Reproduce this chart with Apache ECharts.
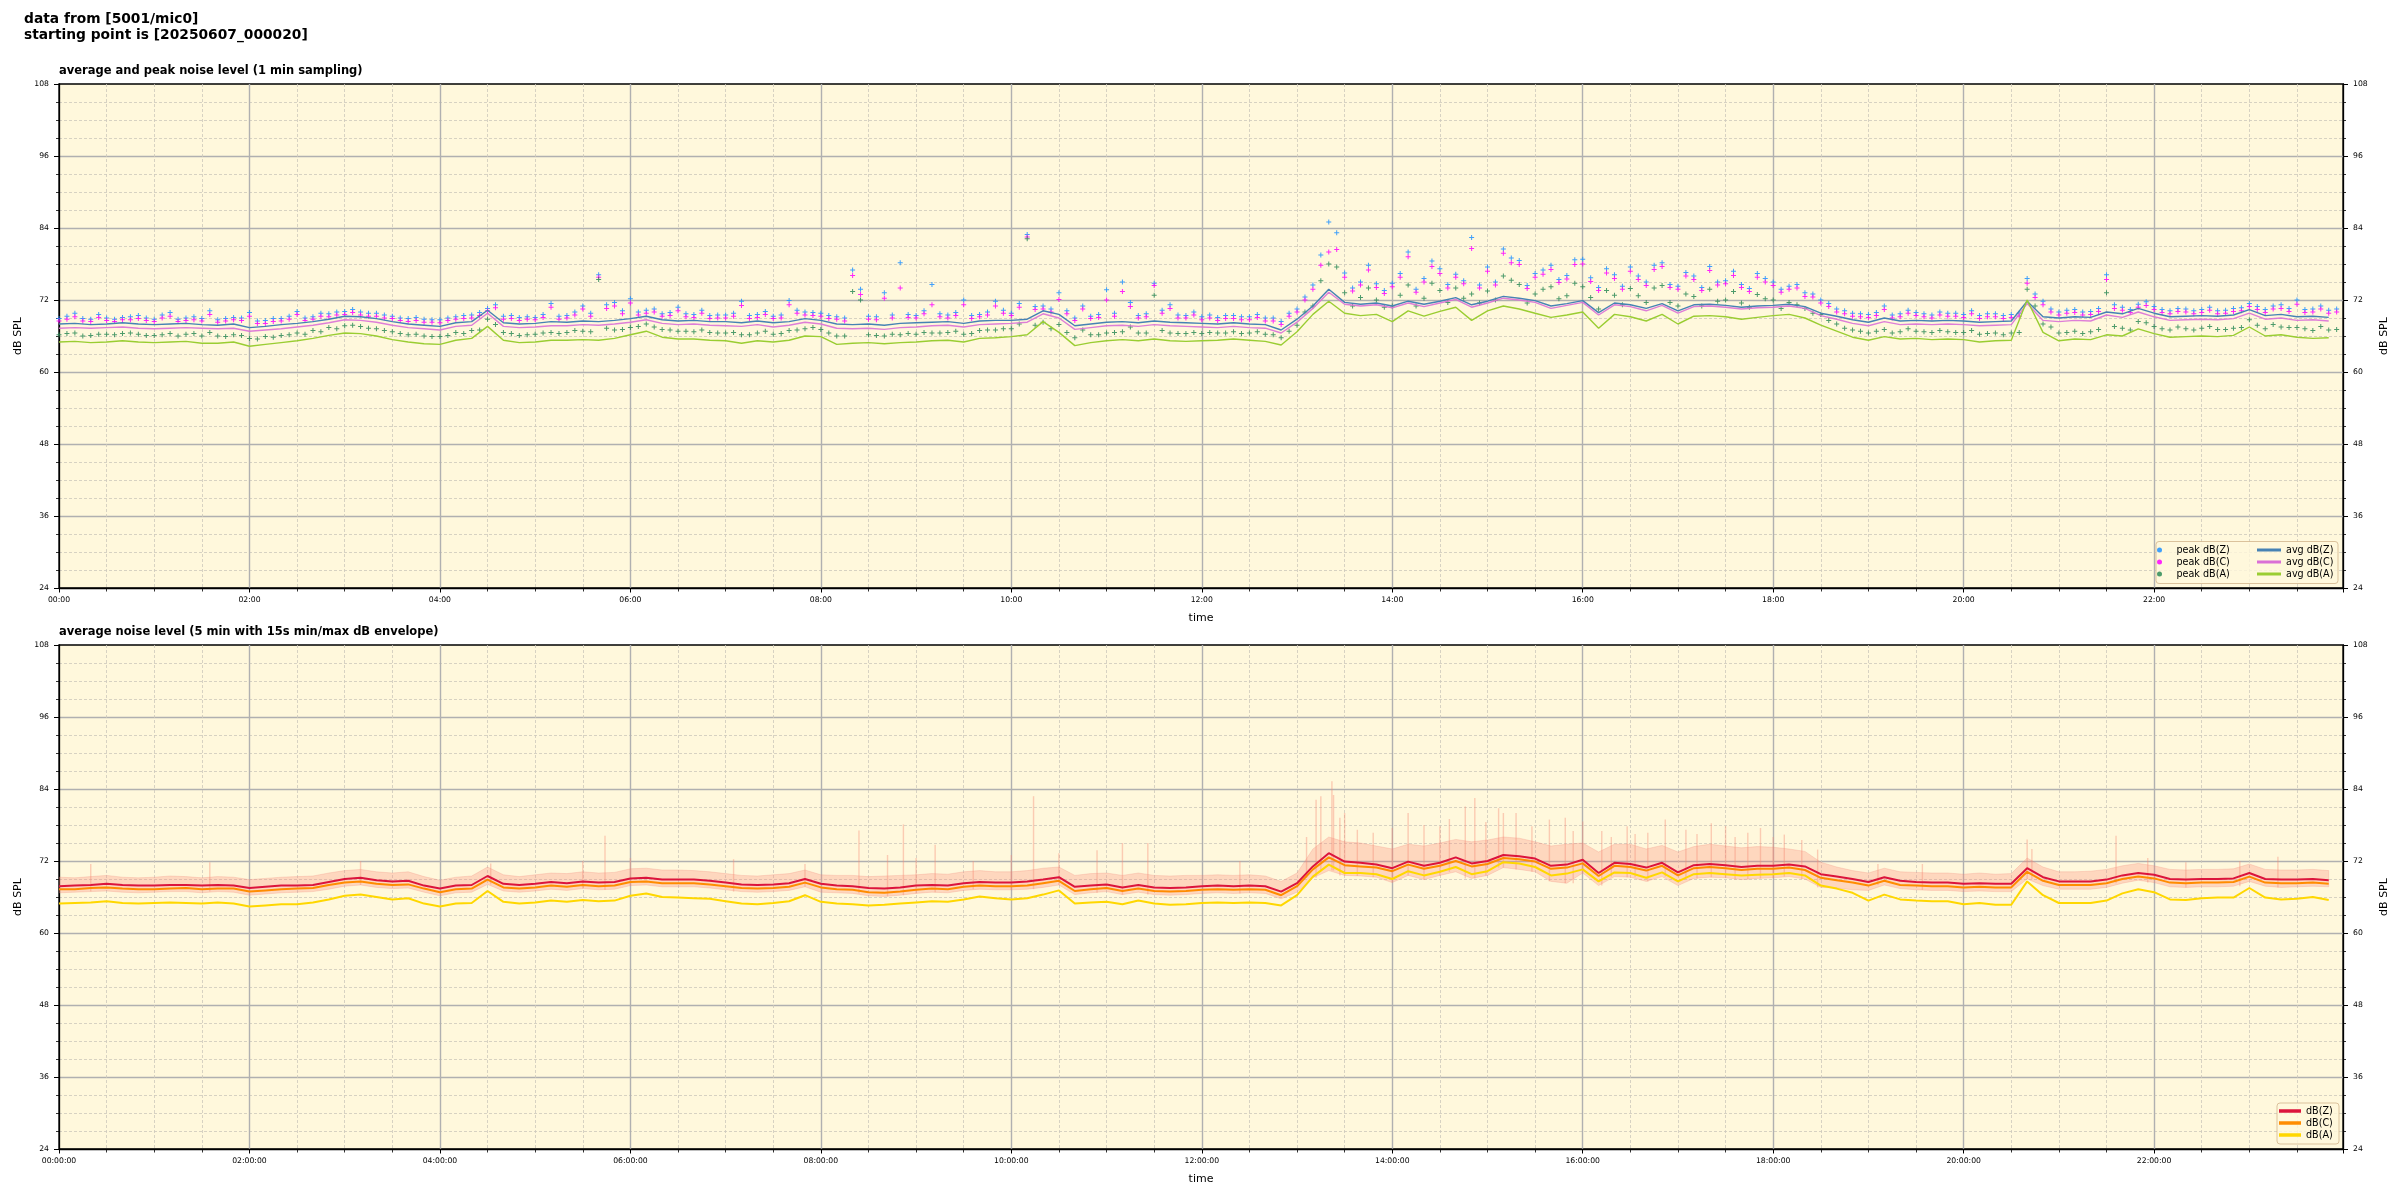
<!DOCTYPE html>
<html><head><meta charset="utf-8">
<script src="https://cdn.jsdelivr.net/npm/echarts@6/dist/echarts.min.js"></script>
<style>html,body{margin:0;padding:0;background:#fff}#c{width:2400px;height:1200px}</style>
</head><body><div id="c"></div>
<script>
// sampling step of the arrays below (minutes from 00:00)
const stepMinutes = 10;
// the second set of peak readings sits between the first (00:05, 00:15, ...)
const peakOffsetMinutes = 5;

// ---- top panel: 1 min sampling (read every 10 min) ----
const avgZ = [
68.0,68.1,67.9,68.0,68.2,68.0, 67.9,68.0,68.1,67.9,67.8,68.0, 67.4,67.6,67.9,68.1,68.4,68.8, 69.3,69.2,68.9,68.4,68.0,67.8,
67.6,68.2,68.4,70.3,68.2,68.0, 68.1,68.4,68.3,68.5,68.4,68.6, 68.9,69.3,68.7,68.5,68.6,68.4, 68.4,68.2,68.5,68.2,68.4,68.9,
68.6,68.0,67.9,68.0,67.8,68.1, 68.2,68.3,68.4,68.1,68.5,68.6, 68.6,68.8,70.2,69.6,67.7,68.0, 68.3,68.4,68.2,68.5,68.3,68.2,
68.1,68.0,68.2,68.0,67.9,67.0, 68.8,71.0,73.8,71.6,71.3,71.5, 71.0,71.8,71.3,71.8,72.4,71.2, 71.8,72.6,72.3,71.9,71.0,71.4,
71.9,69.9,71.5,71.2,70.6,71.4, 70.2,71.2,71.3,71.1,70.8,71.0, 71.1,71.3,70.9,69.8,69.3,68.7, 68.3,69.0,68.5,68.6,68.5,68.6,
68.5,68.3,68.4,68.5,71.8,69.2, 69.0,69.2,69.1,70.0,69.7,70.6, 69.8,69.2,69.3,69.4,69.3,69.5, 70.4,69.4,69.6,69.2,69.3,69.1];
const avgC = [
67.3,67.4,67.3,67.4,67.5,67.3, 67.2,67.3,67.4,67.3,67.2,67.3, 66.8,67.0,67.2,67.5,67.8,68.2, 68.7,68.6,68.3,67.8,67.4,67.2,
67.0,67.6,67.8,69.8,67.6,67.4, 67.5,67.7,67.7,67.9,67.8,68.0, 68.3,68.7,68.1,67.9,68.0,67.8, 67.7,67.6,67.9,67.5,67.8,68.3,
68.0,67.3,67.2,67.3,67.1,67.4, 67.5,67.7,67.8,67.5,67.9,68.0, 68.1,68.3,69.7,69.0,67.1,67.4, 67.7,67.8,67.6,67.9,67.7,67.6,
67.5,67.4,67.6,67.4,67.3,66.5, 68.3,70.6,73.3,71.3,71.0,71.2, 70.7,71.5,70.9,71.5,72.1,70.8, 71.5,72.3,72.0,71.6,70.6,71.1,
71.6,69.5,71.2,70.9,70.2,71.1, 69.8,70.9,71.0,70.8,70.5,70.7, 70.8,71.0,70.6,69.4,68.8,68.1, 67.7,68.4,67.9,68.0,67.9,68.0,
67.9,67.7,67.8,67.9,71.4,68.6, 68.4,68.6,68.5,69.5,69.1,70.0, 69.2,68.6,68.7,68.8,68.7,68.9, 69.8,68.8,69.0,68.6,68.7,68.5];
const avgA = [
65.0,65.1,64.9,65.0,65.2,65.0, 64.9,65.0,65.1,64.8,64.8,65.0, 64.3,64.6,64.9,65.2,65.6,66.1, 66.5,66.4,66.0,65.4,65.0,64.7,
64.6,65.3,65.6,67.6,65.3,64.9, 65.0,65.3,65.3,65.4,65.3,65.6, 66.2,66.8,65.8,65.5,65.5,65.3, 65.2,64.8,65.2,65.0,65.3,66.0,
65.9,64.6,64.8,64.9,64.7,64.9, 65.0,65.2,65.3,65.0,65.6,65.7, 65.9,66.2,68.4,66.6,64.4,64.9, 65.2,65.4,65.2,65.5,65.2,65.1,
65.2,65.3,65.5,65.3,65.1,64.5, 66.7,69.6,71.8,69.8,69.4,69.6, 68.4,70.2,69.3,70.1,70.8,68.6, 70.2,71.0,70.5,69.8,69.1,69.5,
70.0,67.3,69.6,69.2,68.5,69.6, 68.0,69.3,69.4,69.2,68.8,69.1, 69.4,69.6,69.0,67.8,66.8,65.8, 65.3,65.9,65.5,65.6,65.4,65.5,
65.4,65.0,65.2,65.3,72.0,66.6, 65.2,65.5,65.4,66.2,66.0,67.2, 66.4,65.8,65.9,66.0,65.9,66.1, 67.5,66.0,66.2,65.8,65.6,65.7];
const peakZ = [
68.9,69.8,68.8,69.0,69.1,69.4, 68.8,69.9,69.0,68.9,68.7,69.1, 69.9,68.6,68.9,70.1,69.2,69.7, 70.1,70.0,69.8,69.3,68.9,68.8,
68.7,69.2,69.5,70.6,69.3,69.1, 69.1,71.4,69.4,71.0,76.2,71.6, 72.2,70.3,69.7,70.8,69.6,69.4, 69.5,71.8,69.6,69.3,71.9,70.0,
69.8,69.2,77.0,69.3,73.2,78.2, 69.4,74.6,69.5,72.0,69.6,71.8, 69.8,82.9,71.0,73.2,69.0,69.3, 73.7,75.0,69.4,74.8,71.2,69.4,
69.2,69.1,69.4,69.2,69.0,68.4, 70.5,74.5,85.0,76.5,75.0,74.7, 74.8,80.0,75.6,77.2,76.3,82.4, 77.5,80.5,78.6,76.4,77.8,76.1,
78.8,74.1,76.2,77.5,75.0,78.2, 74.3,76.0,77.6,75.2,74.6,76.4, 75.0,74.3,73.2,72.0,70.5,69.8, 69.6,71.0,69.7,69.9,69.5,69.8,
69.6,69.4,69.7,69.6,75.6,71.8, 70.0,70.4,70.1,76.2,70.8,71.3, 70.9,70.2,70.5,70.4,70.2,70.6, 71.4,70.4,71.2,72.0,70.5,70.3];
const peakC = [
68.5,69.2,68.4,68.6,68.7,68.9, 68.4,69.3,68.6,68.5,68.3,68.7, 69.3,68.1,68.5,69.6,68.8,69.2, 69.6,69.5,69.3,68.9,68.4,68.3,
68.2,68.8,69.0,70.2,68.8,68.6, 68.7,70.8,69.0,70.5,75.8,71.0, 71.5,69.8,69.3,70.2,69.1,68.9, 69.0,71.1,69.1,68.9,71.2,69.5,
69.3,68.8,76.1,68.8,72.3,74.0, 69.0,71.2,69.0,71.2,69.2,71.0, 69.4,82.5,70.5,72.1,68.6,68.9, 72.0,73.4,69.0,74.4,70.6,69.0,
68.7,68.6,68.9,68.7,68.5,67.9, 70.0,73.8,80.0,75.8,74.5,74.1, 74.2,79.2,75.0,76.4,75.8,80.6, 76.8,79.8,77.9,75.8,77.1,75.5,
78.0,73.6,75.6,76.8,74.4,77.6, 73.8,75.4,76.9,74.7,74.1,75.8, 74.4,73.8,72.6,71.5,70.0,69.3, 69.1,70.4,69.2,69.4,69.0,69.3,
69.1,68.9,69.2,69.1,74.8,71.2, 69.5,69.9,69.6,75.4,70.3,70.8, 70.4,69.7,70.0,69.9,69.7,70.1, 70.9,69.9,70.6,71.3,70.0,69.8];
const peakA = [
66.2,66.5,66.1,66.3,66.4,66.3, 66.1,66.4,66.3,66.0,66.0,66.2, 65.6,65.9,66.1,66.5,66.9,67.4, 67.7,67.6,67.2,66.7,66.2,66.0,
65.9,66.6,66.9,68.8,66.6,66.1, 66.3,66.6,66.6,66.8,75.4,67.0, 67.4,68.0,67.1,66.8,66.7,66.6, 66.5,66.2,66.5,66.3,66.9,67.2,
67.1,66.0,73.4,66.2,66.0,66.2, 66.3,66.5,66.6,66.3,66.9,67.0, 67.2,82.2,68.3,67.9,65.7,66.2, 66.5,66.7,66.5,72.8,66.5,66.4,
66.4,66.5,66.7,66.5,66.3,65.7, 67.8,71.0,78.0,73.2,72.4,72.0, 71.0,74.5,72.3,73.6,74.0,73.0, 73.5,76.0,74.6,73.0,74.2,72.7,
74.2,70.5,72.8,73.9,71.6,74.4, 71.0,72.6,73.8,72.0,71.5,72.9, 72.0,71.6,70.6,69.6,68.0,67.0, 66.5,67.1,66.7,66.8,66.6,66.7,
66.6,66.3,66.5,66.5,73.8,68.0, 66.5,66.8,66.7,73.2,67.3,68.4, 67.6,67.0,67.2,67.3,67.1,67.3, 68.7,67.2,67.5,67.4,66.9,67.0];
// peaks read at 00:05, 00:15, ...
const peakZ2 = [
69.3,68.9,69.6,68.8,69.2,69.0, 69.5,68.8,69.2,70.2,68.9,69.0, 68.5,68.9,69.3,69.0,69.8,70.0, 70.4,69.8,69.5,69.0,69.1,68.7,
69.0,69.4,69.9,71.2,69.4,69.2, 69.6,69.3,70.0,69.8,71.2,70.2, 70.0,70.5,69.9,69.7,70.3,69.5, 69.8,69.4,70.1,69.5,70.3,69.9,
69.4,69.0,73.8,69.2,69.5,69.6, 70.2,69.7,69.9,69.4,70.0,70.3, 71.4,70.9,70.5,70.2,71.0,69.6, 69.8,71.6,69.7,70.3,69.5,70.0,
69.5,69.4,69.2,69.6,69.0,69.8, 72.5,79.5,83.2,74.0,77.8,73.6, 76.4,73.8,78.5,74.6,75.2,74.5, 75.0,79.0,74.4,77.0,75.4,78.7,
75.7,77.2,74.3,76.0,77.8,74.6, 76.6,74.1,75.0,76.8,73.9,75.6, 73.8,74.6,73.0,71.4,70.2,69.7, 69.9,69.5,70.3,69.7,70.0,69.8,
70.2,69.7,69.4,69.8,73.0,70.5, 70.3,70.0,70.6,71.2,70.4,71.7, 70.4,70.6,70.2,70.8,70.3,70.7, 70.9,71.0,70.6,70.4,71.0,70.5];
const peakC2 = [
68.8,68.5,69.1,68.4,68.7,68.6, 69.0,68.4,68.7,69.6,68.5,68.6, 68.1,68.4,68.8,68.6,69.3,69.5, 69.9,69.3,69.0,68.6,68.6,68.3,
68.6,68.9,69.4,70.7,68.9,68.8, 69.1,68.8,69.5,69.3,70.6,69.7, 69.5,70.0,69.4,69.2,69.8,69.0, 69.3,68.9,69.6,69.0,69.8,69.4,
68.9,68.5,72.9,68.7,69.0,69.1, 69.7,69.2,69.4,68.9,69.5,69.8, 70.8,70.4,70.0,69.7,70.5,69.1, 69.3,70.9,69.2,69.8,69.0,69.5,
69.0,68.9,68.7,69.1,68.5,69.3, 72.0,77.8,80.4,73.5,77.0,73.1, 75.8,73.3,77.6,74.0,74.7,74.0, 74.5,78.2,73.9,76.3,74.9,77.9,
75.1,76.5,73.8,75.4,77.1,74.1, 76.0,73.6,74.5,76.1,73.4,75.0, 73.3,74.0,72.5,70.9,69.7,69.2, 69.4,69.0,69.8,69.2,69.5,69.3,
69.7,69.2,68.9,69.3,72.4,70.0, 69.8,69.5,70.1,70.6,69.9,71.1, 69.9,70.1,69.7,70.3,69.8,70.2, 70.4,70.5,70.1,69.9,70.5,70.0];
const peakA2 = [
66.4,66.0,66.3,66.2,66.5,66.1, 66.2,66.0,66.4,66.6,65.9,66.1, 65.5,65.8,66.2,66.3,66.7,67.2, 67.8,67.3,66.9,66.4,66.3,65.9,
66.1,66.4,67.0,67.9,66.4,66.2, 66.5,66.4,66.9,66.7,67.3,67.1, 67.6,67.5,67.0,66.8,67.0,66.5, 66.6,66.2,66.8,66.4,67.0,67.4,
66.5,66.0,72.0,66.1,66.3,66.4, 66.6,66.5,66.8,66.4,67.0,67.2, 68.0,67.8,67.2,66.6,67.0,66.2, 66.6,67.5,66.5,66.9,66.4,66.6,
66.6,66.5,66.4,66.7,66.2,66.8, 70.0,75.2,77.5,71.0,74.0,70.8, 72.8,71.0,74.8,71.6,72.3,71.5, 72.0,75.3,71.5,73.8,72.2,74.8,
72.4,73.6,71.2,72.7,74.0,71.6, 73.0,71.0,71.8,73.4,70.8,72.2, 70.6,71.2,69.8,68.6,67.3,66.8, 66.8,66.5,67.2,66.7,66.9,66.6,
66.9,66.4,66.2,66.6,71.0,67.5, 66.6,66.4,67.1,67.6,67.0,68.2, 67.2,67.5,67.0,67.6,67.1,67.4, 67.8,67.9,67.4,67.2,67.6,67.1];

// ---- bottom panel: 5 min average with 15 s min/max envelope (read every 10 min) ----
const levelZ = [
67.8,67.9,68.0,68.2,68.0,67.9, 67.9,68.0,68.0,67.9,68.0,67.9, 67.5,67.7,67.9,67.9,68.0,68.5, 69.0,69.2,68.8,68.6,68.7,67.9,
67.4,67.9,68.0,69.5,68.2,68.0, 68.2,68.5,68.3,68.6,68.4,68.5, 69.1,69.2,68.9,68.9,68.9,68.7, 68.4,68.1,68.0,68.1,68.3,69.0,
68.2,67.9,67.8,67.5,67.4,67.6, 67.9,68.0,67.9,68.3,68.5,68.4, 68.4,68.6,68.9,69.3,67.7,67.9, 68.1,67.6,68.0,67.6,67.5,67.6,
67.8,67.9,67.8,67.9,67.8,66.9, 68.3,71.1,73.3,71.9,71.7,71.4, 70.8,71.9,71.2,71.7,72.6,71.6, 72.0,73.0,72.8,72.4,71.2,71.4,
72.2,70.0,71.7,71.5,70.9,71.7, 70.1,71.3,71.5,71.3,71.0,71.2, 71.2,71.4,71.1,69.8,69.4,69.0, 68.5,69.3,68.7,68.5,68.4,68.4,
68.2,68.3,68.2,68.2,70.8,69.3, 68.6,68.6,68.6,68.9,69.6,70.0, 69.7,69.0,68.9,69.0,69.0,69.1, 70.0,69.0,68.9,68.9,69.0,68.8];
const levelC = [
67.3,67.3,67.5,67.6,67.4,67.3, 67.3,67.4,67.5,67.3,67.4,67.4, 66.9,67.1,67.3,67.4,67.5,68.0, 68.4,68.6,68.2,68.0,68.1,67.4,
66.8,67.3,67.4,68.9,67.6,67.4, 67.6,67.9,67.7,68.0,67.8,67.9, 68.5,68.6,68.3,68.3,68.3,68.1, 67.8,67.5,67.4,67.5,67.7,68.4,
67.6,67.3,67.2,66.8,66.7,66.9, 67.2,67.4,67.3,67.7,67.9,67.8, 67.8,67.9,68.3,68.7,67.0,67.3, 67.5,67.0,67.4,67.0,66.9,67.0,
67.2,67.3,67.2,67.3,67.2,66.3, 67.8,70.6,72.6,71.3,71.1,70.9, 70.3,71.4,70.7,71.2,72.0,71.1, 71.5,72.5,72.3,71.9,70.7,70.9,
71.6,69.5,71.2,71.0,70.4,71.2, 69.6,70.8,71.0,70.8,70.5,70.7, 70.7,70.9,70.5,69.2,68.8,68.4, 67.9,68.7,68.0,67.9,67.8,67.8,
67.6,67.7,67.6,67.6,70.2,68.7, 68.0,68.0,68.0,68.3,69.0,69.4, 69.1,68.4,68.3,68.4,68.4,68.5, 69.4,68.4,68.3,68.3,68.4,68.2];
const levelA = [
64.9,65.0,65.1,65.3,65.0,64.9, 65.0,65.1,65.0,64.9,65.1,64.9, 64.4,64.6,64.8,64.8,65.1,65.6, 66.2,66.4,66.0,65.6,65.8,64.9,
64.4,64.9,65.0,67.0,65.2,64.9, 65.1,65.4,65.2,65.5,65.3,65.4, 66.2,66.6,66.0,65.9,65.8,65.7, 65.3,64.9,64.8,65.0,65.3,66.3,
65.2,64.9,64.8,64.6,64.7,64.9, 65.1,65.3,65.2,65.6,66.1,65.8, 65.6,65.8,66.4,67.1,64.9,65.1, 65.2,64.8,65.4,64.9,64.7,64.8,
65.0,65.1,65.0,65.1,65.0,64.6, 66.3,69.4,71.4,70.0,70.0,69.8, 69.0,70.3,69.6,70.2,71.0,69.8, 70.3,71.8,71.6,71.0,69.6,69.9,
70.6,68.6,70.1,70.0,69.2,70.1, 68.6,69.8,70.0,69.8,69.6,69.7, 69.8,70.0,69.6,67.9,67.4,66.7, 65.4,66.4,65.6,65.4,65.3,65.3,
64.8,65.0,64.7,64.7,68.6,66.3, 65.0,65.0,65.0,65.4,66.6,67.3, 66.8,65.6,65.5,65.8,65.9,65.9, 67.5,65.9,65.6,65.7,66.0,65.5];
// upper edge of the dense part of the 15 s envelope
const envMax = [
69.3,69.2,69.4,69.6,69.3,69.2, 69.3,69.5,69.4,69.2,69.4,69.3, 68.9,69.1,69.3,69.4,69.5,70.0, 70.4,70.6,70.2,70.0,70.2,69.4,
68.8,69.3,69.5,71.0,69.7,69.4, 69.7,70.0,69.9,70.2,70.0,70.1, 70.7,70.8,70.5,70.5,70.4,70.2, 69.9,69.6,69.5,69.7,69.9,70.5,
69.7,69.6,69.6,69.4,69.5,69.6, 69.7,69.9,69.8,70.2,70.4,70.2, 70.2,70.4,70.8,71.0,69.6,69.9, 70.0,69.6,70.0,69.6,69.5,69.6,
69.6,69.7,69.6,69.7,69.5,68.6, 70.0,74.0,76.0,75.2,75.0,74.5, 74.0,74.8,74.5,75.0,75.6,75.2, 75.5,76.0,75.8,75.2,74.5,74.8,
75.0,73.5,74.8,74.8,74.0,74.6, 73.5,74.4,74.8,74.5,74.2,74.4, 74.3,74.0,73.6,71.8,71.0,70.4, 70.0,70.8,70.2,70.1,70.0,70.0,
69.8,70.0,69.8,69.9,72.5,71.0, 70.2,70.2,70.3,70.6,71.2,71.6, 71.2,70.6,70.5,70.6,70.6,70.7, 71.5,70.6,70.5,70.5,70.6,70.4];
const envMin = [
66.7,66.8,66.9,67.0,66.8,66.7, 66.8,66.9,66.9,66.7,66.9,66.8, 66.3,66.5,66.7,66.8,66.9,67.3, 67.8,68.0,67.6,67.4,67.5,66.8,
66.2,66.7,66.8,68.1,67.0,66.8, 67.0,67.3,67.1,67.4,67.2,67.3, 67.9,68.0,67.7,67.7,67.7,67.5, 67.2,66.9,66.8,66.9,67.1,67.7,
66.8,66.7,66.6,66.2,66.1,66.3, 66.6,66.8,66.7,67.1,67.3,67.2, 67.2,67.3,67.6,68.0,66.4,66.7, 66.9,66.4,66.8,66.4,66.3,66.4,
66.6,66.7,66.6,66.7,66.6,65.7, 66.8,69.2,70.4,69.6,69.5,69.3, 68.4,69.6,68.9,69.6,70.2,69.1, 69.6,70.9,70.6,70.2,68.6,68.3,
70.0,67.9,69.4,69.3,68.6,69.4, 67.9,69.1,69.3,69.2,68.9,69.1, 69.2,69.4,69.0,67.6,67.5,67.2, 67.1,68.0,67.4,67.2,67.1,67.1,
66.9,67.0,66.9,66.9,69.0,67.9, 67.3,67.3,67.3,67.6,68.3,68.8, 68.4,67.7,67.6,67.7,67.7,67.8, 68.6,67.8,67.6,67.7,67.8,67.7];
// single 15 s maxima sticking out of the envelope (minute of day, dB)
const spikeMinutes = [20, 95, 190, 272, 330, 344, 360, 425, 470, 504, 522, 532, 540, 552, 576, 600, 614, 630, 654, 670, 686, 744,
  786, 792, 795, 802, 803, 807, 810, 818, 828, 840, 850, 860, 870, 876, 886, 892, 899, 907, 910, 918, 928, 939, 949, 954, 960,
  972, 978, 988, 993, 1001, 1012, 1025, 1032, 1041, 1050, 1056, 1064, 1072, 1080, 1087, 1098, 1108,
  1146, 1174, 1240, 1243, 1296, 1316, 1340, 1374, 1398];
const spikeValues = [71.5, 71.8, 72.0, 71.6, 72.0, 76.2, 72.5, 72.3, 71.5, 77.1, 73.0, 78.1, 72.5, 74.7, 72.0, 73.0, 82.8, 73.3, 73.8, 75.0, 75.0, 72.0,
  76.0, 82.2, 82.8, 85.3, 83.0, 79.2, 80.0, 77.2, 76.7, 77.5, 80.0, 78.0, 77.8, 79.0, 81.1, 82.5, 78.5, 80.8, 80.0, 80.0, 77.8, 78.9, 79.2, 77.0, 78.6,
  77.0, 76.0, 77.8, 76.5, 76.7, 78.9, 77.2, 76.5, 78.3, 77.8, 76.0, 76.7, 77.5, 76.0, 76.4, 75.5, 73.9,
  71.5, 71.5, 75.6, 74.0, 76.2, 72.5, 71.8, 72.0, 72.7];

// ---- axes ----
const yMin = 24, yMax = 108, yStep = 12;
const xMaxMinute = 1439, xStep = 120;
const xLabelsTop = ['00:00','02:00','04:00','06:00','08:00','10:00','12:00','14:00','16:00','18:00','20:00','22:00'];
const xLabelsBottom = ['00:00:00','02:00:00','04:00:00','06:00:00','08:00:00','10:00:00','12:00:00','14:00:00','16:00:00','18:00:00','20:00:00','22:00:00'];

const FONT = 'DejaVu Sans';
const mins = avgZ.map((_, i) => i * stepMinutes);
const pair = arr => arr.map((v, i) => [mins[i], v]);
const pairOff = arr => arr.map((v, i) => [mins[i] + peakOffsetMinutes, v]);
const PLUS = 'path://M2,0h1v2h2v1h-2v2h-1v-2h-2v-1h2z';
const BAR = 'path://M0,0h24v3h-24z';
const BAR2 = 'path://M0,0h22v3.5h-22z';
const ENV_FILL = 'rgba(250,128,114,0.28)';
const ENV_EDGE = 'rgba(240,128,114,0.4)';

const MAJOR = {color: '#b0b0b0', width: 1.4};
const MINOR = {color: '#cdc8bb', width: 0.8, type: [3, 2]};

function xAxisCfg(gridIndex, labels) {
  return {
    type: 'value', gridIndex, min: 0, max: xMaxMinute, interval: xStep,
    name: 'time', nameLocation: 'middle', nameGap: 25,
    nameTextStyle: {fontFamily: FONT, fontSize: 11, color: '#000'},
    axisLine: {show: true, onZero: false, lineStyle: {color: '#000', width: 1.3}},
    axisTick: {show: true, length: 4.5, lineStyle: {color: '#000', width: 1}},
    minorTick: {show: true, splitNumber: 4, length: 3.5, lineStyle: {color: '#000', width: 0.8}},
    axisLabel: {fontFamily: FONT, fontSize: 7.7, color: '#000', margin: 8, showMaxLabel: false,
      formatter: v => (v % xStep === 0 ? labels[v / xStep] : '')},
    splitLine: {show: true, showMinLine: false, showMaxLine: false, lineStyle: MAJOR},
    minorSplitLine: {show: true, lineStyle: MINOR}
  };
}
function yAxisCfg(gridIndex, position) {
  const left = position === 'left';
  return {
    type: 'value', gridIndex, position, min: yMin, max: yMax, interval: yStep,
    name: 'dB SPL', nameLocation: 'middle', nameGap: left ? 33 : 31, nameRotate: 90,
    nameTextStyle: {fontFamily: FONT, fontSize: 11, color: '#000'},
    axisLine: {show: true, onZero: false, lineStyle: {color: '#000', width: 1.3}},
    axisTick: {show: true, length: 5, lineStyle: {color: '#000', width: 1}},
    minorTick: {show: true, splitNumber: 4, length: 3, lineStyle: {color: '#000', width: 0.8}},
    axisLabel: {fontFamily: FONT, fontSize: 7.7, color: '#000', margin: 10},
    splitLine: {show: left, showMinLine: false, showMaxLine: false, lineStyle: MAJOR},
    minorSplitLine: {show: left, lineStyle: MINOR}
  };
}
const gridBase = {left: 59, width: 2284, height: 504, show: true, backgroundColor: '#fff8dc', borderColor: '#000', borderWidth: 1.3};
const legendBase = {orient: 'vertical', padding: 0, itemGap: 0, selectedMode: false, z: 20,
  textStyle: {fontFamily: FONT, fontSize: 9.6, color: '#000', lineHeight: 12}};

function envelopeItem(params, api) {
  if (params.dataIndex !== 0) return null;
  const upper = envMax.map((v, i) => api.coord([mins[i], v]));
  const lower = envMin.map((v, i) => api.coord([mins[i], v])).reverse();
  return {type: 'polygon', shape: {points: upper.concat(lower)},
    style: {fill: ENV_FILL, stroke: ENV_EDGE, lineWidth: 0.6}};
}
function spikeItem(params, api) {
  const t = api.value(0), v = api.value(1);
  const base = envMin[Math.min(envMin.length - 1, Math.round(t / stepMinutes))];
  const p1 = api.coord([t, base]), p2 = api.coord([t, v]);
  return {type: 'line', shape: {x1: p1[0], y1: p1[1], x2: p2[0], y2: p2[1]},
    style: {stroke: 'rgba(245,140,120,0.42)', lineWidth: 1.4}};
}

const option = {
  animation: false,
  backgroundColor: '#fff',
  title: [
    {text: 'data from [5001/mic0]\nstarting point is [20250607_000020]', left: 24, top: 11, padding: 0,
     textStyle: {fontFamily: FONT, fontSize: 13.8, fontWeight: 'bold', lineHeight: 16, color: '#000'}},
    {text: 'average and peak noise level (1 min sampling)', left: 59, top: 65, padding: 0,
     textStyle: {fontFamily: FONT, fontSize: 11.5, fontWeight: 'bold', color: '#000'}},
    {text: 'average noise level (5 min with 15s min/max dB envelope)', left: 59, top: 626, padding: 0,
     textStyle: {fontFamily: FONT, fontSize: 11.5, fontWeight: 'bold', color: '#000'}}
  ],
  grid: [Object.assign({top: 84}, gridBase), Object.assign({top: 645}, gridBase)],
  xAxis: [xAxisCfg(0, xLabelsTop), xAxisCfg(1, xLabelsBottom)],
  yAxis: [yAxisCfg(0, 'left'), yAxisCfg(0, 'right'), yAxisCfg(1, 'left'), yAxisCfg(1, 'right')],
  graphic: [
    {type: 'rect', z: 10, shape: {x: 2156, y: 541.5, width: 182, height: 42, r: 3},
     style: {fill: 'rgba(255,248,220,0.8)', stroke: 'rgba(210,180,140,0.8)', lineWidth: 1}},
    {type: 'rect', z: 10, shape: {x: 2277, y: 1103, width: 62, height: 41, r: 3},
     style: {fill: 'rgba(255,248,220,0.8)', stroke: 'rgba(210,180,140,0.8)', lineWidth: 1}}
  ],
  legend: [
    Object.assign({}, legendBase, {left: 2157, top: 544, itemWidth: 24, itemHeight: 5, data: [
      {name: 'peak dB(Z)', icon: 'circle', itemStyle: {color: '#1e90ff'}},
      {name: 'peak dB(C)', icon: 'circle', itemStyle: {color: '#ff00ff'}},
      {name: 'peak dB(A)', icon: 'circle', itemStyle: {color: '#2e8b57'}}]}),
    Object.assign({}, legendBase, {left: 2257, top: 544, itemWidth: 24, itemHeight: 5, data: [
      {name: 'avg dB(Z)', icon: BAR, itemStyle: {color: '#4682b4', borderWidth: 0}},
      {name: 'avg dB(C)', icon: BAR, itemStyle: {color: '#da70d6', borderWidth: 0}},
      {name: 'avg dB(A)', icon: BAR, itemStyle: {color: '#9acd32', borderWidth: 0}}]}),
    Object.assign({}, legendBase, {left: 2279, top: 1105, itemWidth: 22, itemHeight: 5, data: [
      {name: 'dB(Z)', icon: BAR2, itemStyle: {color: '#dc143c', borderWidth: 0}},
      {name: 'dB(C)', icon: BAR2, itemStyle: {color: '#ff8c00', borderWidth: 0}},
      {name: 'dB(A)', icon: BAR2, itemStyle: {color: '#ffd700', borderWidth: 0}}]})
  ],
  series: [
    {name: 'peak dB(Z)', type: 'scatter', xAxisIndex: 0, yAxisIndex: 0, data: pair(peakZ).concat(pairOff(peakZ2)),
     symbol: PLUS, symbolSize: 5, itemStyle: {color: '#1e90ff', opacity: 0.85}},
    {name: 'peak dB(C)', type: 'scatter', xAxisIndex: 0, yAxisIndex: 0, data: pair(peakC).concat(pairOff(peakC2)),
     symbol: PLUS, symbolSize: 5, itemStyle: {color: '#ff00ff', opacity: 0.85}},
    {name: 'peak dB(A)', type: 'scatter', xAxisIndex: 0, yAxisIndex: 0, data: pair(peakA).concat(pairOff(peakA2)),
     symbol: PLUS, symbolSize: 5, itemStyle: {color: '#2e8b57', opacity: 0.85}},
    {name: 'avg dB(Z)', type: 'line', xAxisIndex: 0, yAxisIndex: 0, data: pair(avgZ), symbol: 'none',
     lineStyle: {color: '#4682b4', width: 1.4}, itemStyle: {color: '#4682b4'}},
    {name: 'avg dB(C)', type: 'line', xAxisIndex: 0, yAxisIndex: 0, data: pair(avgC), symbol: 'none',
     lineStyle: {color: '#da70d6', width: 1.4, opacity: 0.9}, itemStyle: {color: '#da70d6'}},
    {name: 'avg dB(A)', type: 'line', xAxisIndex: 0, yAxisIndex: 0, data: pair(avgA), symbol: 'none',
     lineStyle: {color: '#9acd32', width: 1.4}, itemStyle: {color: '#9acd32'}},
    {name: 'envelope', type: 'custom', xAxisIndex: 1, yAxisIndex: 2, silent: true, clip: true, z: 1,
     data: envMax.map((v, i) => [mins[i], envMin[i], v]), encode: {x: 0, y: [1, 2]}, renderItem: envelopeItem},
    {name: 'envelope spikes', type: 'custom', xAxisIndex: 1, yAxisIndex: 2, silent: true, clip: true, z: 1,
     data: spikeMinutes.map((t, i) => [t, spikeValues[i]]), encode: {x: 0, y: 1}, renderItem: spikeItem},
    {name: 'dB(Z)', type: 'line', xAxisIndex: 1, yAxisIndex: 2, data: pair(levelZ), symbol: 'none',
     lineStyle: {color: '#dc143c', width: 2}, itemStyle: {color: '#dc143c'}},
    {name: 'dB(C)', type: 'line', xAxisIndex: 1, yAxisIndex: 2, data: pair(levelC), symbol: 'none',
     lineStyle: {color: '#ff8c00', width: 2}, itemStyle: {color: '#ff8c00'}},
    {name: 'dB(A)', type: 'line', xAxisIndex: 1, yAxisIndex: 2, data: pair(levelA), symbol: 'none',
     lineStyle: {color: '#ffd700', width: 2}, itemStyle: {color: '#ffd700'}}
  ]
};
const chart = echarts.init(document.getElementById('c'), null, {renderer: 'canvas'});
chart.setOption(option);
</script></body></html>
